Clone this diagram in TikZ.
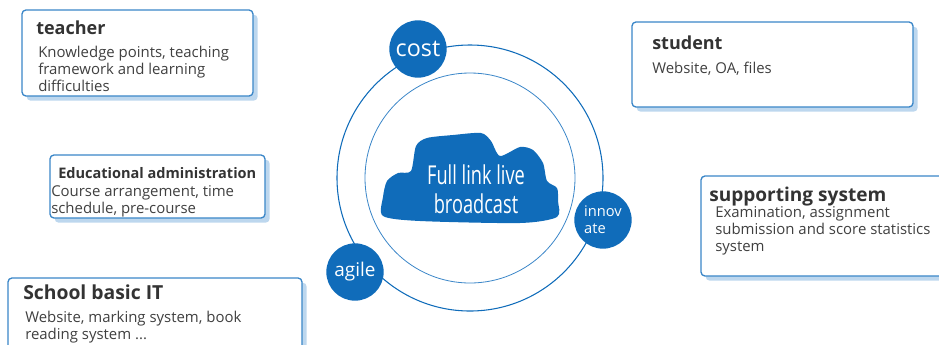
\documentclass[tikz,border=0pt]{standalone}
\usepackage{fontspec}
\setmainfont{Open Sans}
\usetikzlibrary{fit,shadows}
\definecolor{mainblue}{RGB}{16,108,186}
\definecolor{frameblue}{RGB}{58,134,200}
\definecolor{shadeblue}{RGB}{189,215,238}
\definecolor{textgray}{RGB}{64,64,64}

\begin{document}
\begin{tikzpicture}[x=0.75pt, y=-0.75pt]
    \tikzstyle{infobox} = [draw=frameblue, line width=1pt, rounded corners=3pt, fill=white, inner sep=0pt,
        drop shadow={shadow xshift=3.5pt, shadow yshift=-3.5pt, fill=shadeblue, opacity=1}]
    \tikzstyle{boxtitle} = [anchor=base west, inner sep=0pt, text=textgray!80!black, font=\bfseries\fontsize{13.5}{15}\selectfont]
    % base of a multi-line body is the baseline of its last line
    \tikzstyle{boxbody} = [anchor=base west, inner sep=0pt, align=left, text=textgray, font=\fontsize{11.2}{12.5}\selectfont]
    \tikzstyle{ring} = [draw=mainblue, line width=0.8pt]
    \tikzstyle{badge} = [circle, fill=mainblue, text=white, inner sep=0pt, minimum size=43pt]
    \clip (0,0) rectangle (939,344);

    % two rings and the cloud in the middle
    \coordinate (hub) at (470,178);
    \draw[ring] (hub) circle [radius=133];
    \draw[ring, line width=0.6pt, draw=frameblue] (hub) circle [radius=105];
    \fill[mainblue] plot[smooth cycle, tension=0.45] coordinates {
        (383,216) (383,197) (387,181) (398,173) (411,171) (416,146) (427,138) (453,135)
        (481,133) (491,141) (500,156) (520,147) (533,150) (543,163) (547,181) (557,188)
        (558,201) (557,217) (520,223) (420,221)};
    \node[text=white, align=center, inner sep=0pt, xscale=0.7, font=\fontsize{19.5}{21.75}\selectfont] (live) at (476,189) {Full link live\\broadcast};

    % badges sitting on the outer ring
    \node[badge, font=\fontsize{17.5}{20}\selectfont] (cost) at (418,49) {cost};
    \node[badge, align=left, font=\fontsize{11}{13}\selectfont] (innovate) at (603,220) {innov\\ate};
    \node[badge, font=\fontsize{14.2}{16}\selectfont] (agile) at (355,272) {agile};

    % left column
    \node[infobox, fit={(22,10) (253,96)}] (teacherbox) {};
    \node[boxtitle] (teacher) at (36,34) {teacher};
    \node[boxbody] (teacherinfo) at (38,91) {Knowledge points, teaching\\framework and learning\\difficulties};

    \node[infobox, fit={(50,155) (265,218)}] (adminbox) {};
    \node[boxtitle, font=\bfseries\fontsize{10.9}{12}\selectfont] (admin) at (58,178) {Educational administration};
    \node[boxbody] (admininfo) at (51,213) {Course arrangement, time\\schedule, pre-course};

    \node[infobox, fit={(8,278) (302,360)}] (itbox) {};
    \node[boxtitle, font=\bfseries\fontsize{14.5}{16}\selectfont] (schoolit) at (23,299) {School basic IT};
    \node[boxbody] (schoolitinfo) at (25,339) {Website, marking system, book\\reading system ...};

    % right column
    \node[infobox, fit={(632,22) (913,107)}] (studentbox) {};
    \node[boxtitle] (student) at (652,49) {student};
    \node[boxbody] (studentinfo) at (652,73) {Website, OA, files};

    \node[infobox, fit={(701,176) (960,276)}] (supportbox) {};
    \node[boxtitle, font=\bfseries\fontsize{14.3}{16}\selectfont] (support) at (709,201) {supporting system};
    \node[boxbody] (supportinfo) at (715,251) {Examination, assignment\\submission and score statistics\\system};
\end{tikzpicture}
\end{document}
